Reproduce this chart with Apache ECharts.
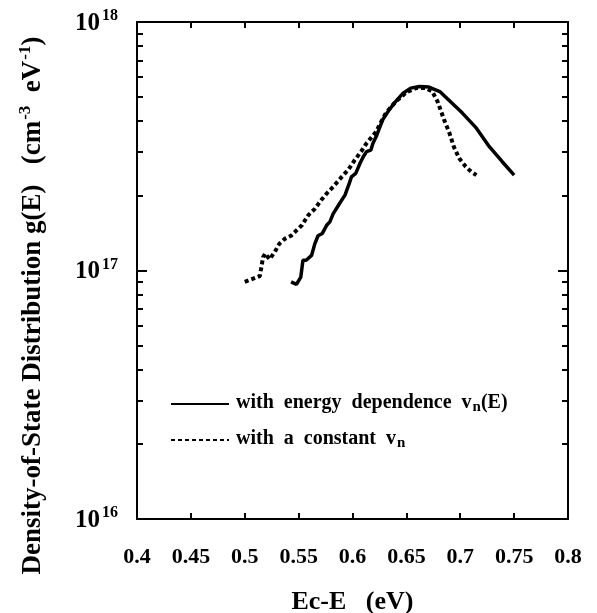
<!DOCTYPE html>
<html>
<head>
<meta charset="utf-8">
<script src="https://cdn.jsdelivr.net/npm/echarts@6/dist/echarts.min.js"></script>
<style>
  html, body { margin: 0; padding: 0; background: #fff; }
  #main { width: 597px; height: 613px; }
</style>
</head>
<body>
<div id="main"></div>
<script>
// Ec-E (eV) for the solid curve, and g(E)
var solidX = [0.543, 0.548, 0.552, 0.554, 0.557, 0.562, 0.565, 0.568, 0.572, 0.576,
              0.579, 0.582, 0.588, 0.593, 0.597, 0.599, 0.603, 0.607, 0.610, 0.613,
              0.617, 0.619, 0.622, 0.625, 0.628, 0.634, 0.640, 0.647, 0.654, 0.662,
              0.671, 0.681, 0.691, 0.702, 0.715, 0.727, 0.739, 0.750];
var solidY = [0.90e17, 0.88e17, 0.94e17, 1.10e17, 1.10e17, 1.15e17, 1.28e17, 1.38e17, 1.41e17, 1.52e17,
              1.57e17, 1.69e17, 1.86e17, 2.01e17, 2.24e17, 2.38e17, 2.46e17, 2.70e17, 2.87e17, 3.01e17,
              3.05e17, 3.25e17, 3.46e17, 3.74e17, 4.04e17, 4.43e17, 4.78e17, 5.17e17, 5.42e17, 5.50e17,
              5.47e17, 5.25e17, 4.78e17, 4.30e17, 3.74e17, 3.15e17, 2.74e17, 2.42e17];

// dotted curve (constant v_n)
var dotX = [0.500, 0.506, 0.514, 0.517, 0.519, 0.523, 0.528, 0.532, 0.537, 0.543,
            0.548, 0.553, 0.559, 0.565, 0.571, 0.576, 0.582, 0.590, 0.596, 0.602,
            0.608, 0.613, 0.617, 0.622, 0.625, 0.631, 0.640, 0.650, 0.659, 0.668,
            0.674, 0.679, 0.685, 0.690, 0.694, 0.699, 0.705, 0.710, 0.715];
var dotY = [0.90e17, 0.92e17, 0.95e17, 1.13e17, 1.17e17, 1.11e17, 1.19e17, 1.28e17, 1.34e17, 1.38e17,
            1.45e17, 1.52e17, 1.67e17, 1.77e17, 1.92e17, 2.04e17, 2.17e17, 2.38e17, 2.54e17, 2.78e17,
            3.01e17, 3.25e17, 3.41e17, 3.62e17, 3.85e17, 4.30e17, 4.78e17, 5.21e17, 5.42e17, 5.42e17,
            5.25e17, 4.78e17, 4.04e17, 3.57e17, 3.15e17, 2.83e17, 2.62e17, 2.50e17, 2.42e17];

// axis ticks
var xTicks = [0.4, 0.45, 0.5, 0.55, 0.6, 0.65, 0.7, 0.75, 0.8];
var yMajor = [1e16, 1e17, 1e18];
var yMinor = [2e16, 3e16, 4e16, 5e16, 6e16, 7e16, 8e16, 9e16,
              2e17, 3e17, 4e17, 5e17, 6e17, 7e17, 8e17, 9e17];

var nameSolid = 'with energy dependence vn(E)';
var nameDot = 'with a constant vn';

function pairs(xs, ys) {
  var out = [];
  for (var i = 0; i < xs.length; i++) out.push([xs[i], ys[i]]);
  return out;
}

var FONT = '"Liberation Serif", "Times New Roman", serif';
var black = '#000';

var myChart = echarts.init(document.getElementById('main'));

function xAxisBase(pos, showLabel) {
  return {
    type: 'value',
    position: pos,
    min: 0.4,
    max: 0.8,
    interval: 0.05,
    axisLine: { show: true, onZero: false, lineStyle: { color: black, width: 2 } },
    axisTick: { show: true, inside: true, length: 6, lineStyle: { color: black, width: 2 },
                customValues: xTicks },
    axisLabel: { show: showLabel, customValues: xTicks, color: black, fontFamily: FONT,
                 fontWeight: 'bold', fontSize: 22, margin: 27 },
    splitLine: { show: false }
  };
}

function yAxisBase(pos, ticks, len, showLabel, showLine) {
  return {
    type: 'log',
    logBase: 10,
    position: pos,
    min: 1e16,
    max: 1e18,
    axisLine: { show: showLine, onZero: false, lineStyle: { color: black, width: 2 } },
    axisTick: { show: true, inside: true, length: len, customValues: ticks,
                lineStyle: { color: black, width: 2 } },
    axisLabel: {
      show: showLabel,
      margin: 19,
      showMinLabel: true,
      showMaxLabel: true,
      formatter: function (v) {
        return '{b|10}{s|' + Math.round(Math.log10(v)) + '}';
      },
      rich: {
        b: { fontFamily: FONT, fontWeight: 'bold', fontSize: 25, color: black, lineHeight: 28, verticalAlign: 'bottom' },
        s: { fontFamily: FONT, fontWeight: 'bold', fontSize: 16, color: black, lineHeight: 16, verticalAlign: 'top', padding: [0, 0, 0, 2] }
      }
    },
    splitLine: { show: false }
  };
}

var yLeft = yAxisBase('left', yMajor, 10, true, true);
yLeft.name = '{t|Density-of-State Distribution g(E)   (cm}{sp|-3}{t|  eV}{sp|-1}{t|)}';
yLeft.nameLocation = 'middle';
yLeft.nameRotate = 90;
yLeft.nameGap = 90;
yLeft.nameTextStyle = {
  padding: [0, 70, 0, 0],
  rich: {
    t: { fontFamily: FONT, fontWeight: 'bold', fontSize: 27, color: black, lineHeight: 30, verticalAlign: 'bottom' },
    sp: { fontFamily: FONT, fontWeight: 'bold', fontSize: 17, color: black, lineHeight: 17, verticalAlign: 'top', padding: [0, 0, 0, 1] }
  }
};

var xBottom = xAxisBase('bottom', true);
xBottom.name = 'Ec-E   (eV)';
xBottom.nameLocation = 'middle';
xBottom.nameGap = 70;
xBottom.nameTextStyle = { fontFamily: FONT, fontWeight: 'bold', fontSize: 26, color: black };

var option = {
  backgroundColor: '#fff',
  animation: false,
  grid: { left: 137, right: 29, top: 22, bottom: 94, containLabel: false, outerBoundsMode: 'none' },
  xAxis: [xBottom, xAxisBase('top', false)],
  yAxis: [
    yLeft,
    yAxisBase('left', yMinor, 6, false, false),
    yAxisBase('right', yMajor, 10, false, true),
    yAxisBase('right', yMinor, 6, false, false)
  ],
  legend: {
    orient: 'vertical',
    left: 165,
    top: 383,
    itemWidth: 58,
    itemHeight: 14,
    itemGap: 9,
    itemStyle: { opacity: 0 },
    data: [nameSolid, nameDot],
    formatter: function (name) {
      if (name === nameSolid) return '{t|with  energy  dependence  v}{sub|n}{t|(E)}';
      return '{t|with  a  constant  v}{sub|n}';
    },
    textStyle: {
      padding: [0, 0, 0, 2],
      rich: {
        t: { fontFamily: FONT, fontWeight: 'bold', fontSize: 20, color: black, lineHeight: 22, verticalAlign: 'top' },
        sub: { fontFamily: FONT, fontWeight: 'bold', fontSize: 15, color: black, lineHeight: 15, verticalAlign: 'bottom', padding: [12, 0, 0, 1] }
      }
    }
  },
  series: [
    {
      name: nameSolid,
      type: 'line',
      xAxisIndex: 0,
      yAxisIndex: 0,
      symbol: 'none',
      showSymbol: false,
      lineStyle: { color: black, width: 3.5 },
      itemStyle: { color: black },
      data: pairs(solidX, solidY)
    },
    {
      name: nameDot,
      type: 'line',
      xAxisIndex: 0,
      yAxisIndex: 0,
      symbol: 'none',
      showSymbol: false,
      lineStyle: { color: black, width: 4, type: [4, 3] },
      itemStyle: { color: black },
      data: pairs(dotX, dotY)
    }
  ]
};

myChart.setOption(option);
</script>
</body>
</html>
